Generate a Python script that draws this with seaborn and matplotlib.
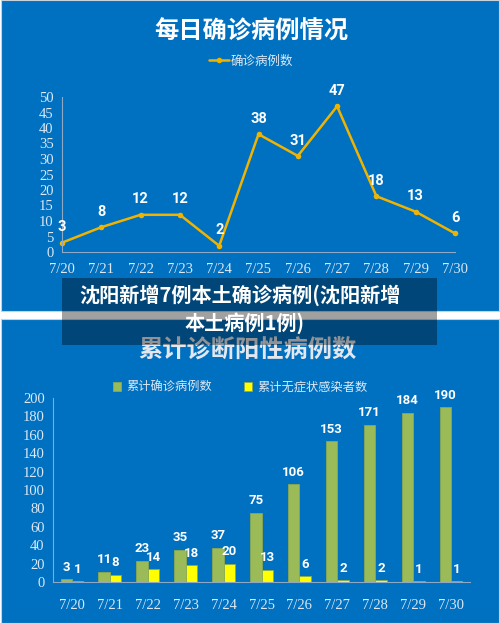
import matplotlib
matplotlib.use('Agg')
import pandas as pd
import seaborn as sns
import matplotlib.pyplot as plt
from matplotlib.patches import Rectangle

# data
dates = ['7/20', '7/21', '7/22', '7/23', '7/24', '7/25', '7/26', '7/27', '7/28', '7/29', '7/30']
daily_confirmed = [3, 8, 12, 12, 2, 38, 31, 47, 18, 13, 6]
cum_confirmed = [3, 11, 23, 35, 37, 75, 106, 153, 171, 184, 190]
cum_asymptomatic = [1, 8, 14, 18, 20, 13, 6, 2, 2, 1, 1]

top_title = '每日确诊病例情况'
bottom_title = '累计诊断阳性病例数'
line_label = '确诊病例数'
bar_labels = ['累计确诊病例数', '累计无症状感染者数']
banner_lines = ['沈阳新增7例本土确诊病例(沈阳新增', '本土病例1例)']

sns.set_style('white')
plt.rcParams['font.family'] = ['Noto Sans CJK SC', 'DejaVu Sans']

BLUE = '#0070c0'
TICK = '#dce8f4'
SPINE = '#8fa9c4'
LINE = '#f0b400'
GREEN = '#9bbb59'
YELLOW = '#ffff00'
num_font = ['Roboto', 'DejaVu Sans']
tick_font = ['Liberation Serif', 'DejaVu Serif']

W, H = 500, 623
fig = plt.figure(figsize=(W / 100, H / 100), dpi=100, facecolor='white')


def fx(px):
    return px / W


def fy(py):
    return 1 - py / H


# blue panels (behind the axes)
fig.patches.append(Rectangle((fx(1), fy(311)), fx(498), 311 / H, transform=fig.transFigure,
                             facecolor=BLUE, edgecolor='#c8d2dc', linewidth=0.8, zorder=-5))
fig.patches.append(Rectangle((fx(1), 0), fx(498), (623 - 319) / H, transform=fig.transFigure,
                             facecolor=BLUE, edgecolor='#c8d2dc', linewidth=0.8, zorder=-5))


def style_axes(ax):
    ax.set_facecolor('none')
    for side in ['top', 'right']:
        ax.spines[side].set_visible(False)
    for side in ['left', 'bottom']:
        ax.spines[side].set_color(SPINE)
        ax.spines[side].set_linewidth(0.8)
    ax.tick_params(length=0, colors=TICK, labelsize=10.5, pad=6)
    for lab in ax.get_xticklabels() + ax.get_yticklabels():
        lab.set_family(tick_font)
    ax.set_xlabel('')
    ax.set_ylabel('')


# ---- top: daily confirmed line chart ----
ax1 = fig.add_axes([fx(62), fy(252), fx(455 - 62), (252 - 97) / H])
x = list(range(len(dates)))
sns.lineplot(x=x, y=daily_confirmed, ax=ax1, color=LINE, linewidth=1.8, marker='o',
             markersize=4, markeredgewidth=0, label=line_label)
ax1.set_xlim(0, 10)
ax1.set_ylim(0, 50)
ax1.set_yticks(range(0, 51, 5))
ax1.set_xticks(x)
ax1.set_xticklabels(dates)
style_axes(ax1)
ax1.tick_params(axis='x', pad=8)
ax1.lines[0].set_clip_on(False)
for xi, v in zip(x, daily_confirmed):
    ax1.annotate(str(v), (xi, v), xytext=(0, 6), textcoords='offset points', ha='center', va='bottom',
                 color='white', fontsize=10.5, fontweight='bold', family=num_font)
h, l = ax1.get_legend_handles_labels()
ax1.get_legend().remove()
fig.legend(h, l, loc='center', bbox_to_anchor=(fx(251), fy(61)), frameon=False, fontsize=9,
           labelcolor=TICK, handlelength=1.6, handletextpad=0.2)

fig.text(fx(251), fy(32), top_title, ha='center', va='center', color='white', fontsize=17.5,
         fontweight='bold')

# ---- bottom: cumulative bar chart ----
df = pd.DataFrame({
    'date': dates * 2,
    'value': cum_confirmed + cum_asymptomatic,
    'kind': [bar_labels[0]] * len(dates) + [bar_labels[1]] * len(dates),
})
ax2 = fig.add_axes([fx(53), fy(582), fx(470 - 53), (582 - 398) / H])
sns.barplot(data=df, x='date', y='value', hue='kind', palette=[GREEN, YELLOW], width=0.6, gap=0,
            ax=ax2, edgecolor='#8aa94e', linewidth=0.6, saturation=1)
ax2.set_xlim(-0.5, 10.5)
ax2.set_ylim(0, 200)
ax2.set_yticks(range(0, 201, 20))
style_axes(ax2)
ax2.tick_params(axis='x', pad=12)
for cont in ax2.containers:
    ax2.bar_label(cont, padding=4, color='white', fontsize=9.5, fontweight='bold', family=num_font)
h, l = ax2.get_legend_handles_labels()
ax2.get_legend().remove()
fig.legend(h, l, loc='center', bbox_to_anchor=(fx(240), fy(387)), frameon=False, ncol=2, fontsize=8.8,
           labelcolor=TICK, handlelength=0.7, handleheight=0.7, handletextpad=0.4, columnspacing=2.6)

fig.text(fx(247), fy(351), bottom_title, ha='center', va='center', color='#e4e8ee', fontsize=17.5,
         fontweight='bold')

# ---- overlay banner ----
fig.patches.append(Rectangle((fx(62), fy(345)), fx(437 - 62), (345 - 278) / H, transform=fig.transFigure,
                             facecolor='black', alpha=0.37, edgecolor='none', zorder=10))
fig.text(fx(240), fy(295), banner_lines[0], ha='center', va='center', color='white', fontsize=14.5,
         fontweight='bold', zorder=11)
fig.text(fx(245), fy(323), banner_lines[1], ha='center', va='center', color='white', fontsize=14.5,
         fontweight='bold', zorder=11)

fig.savefig('out.png', dpi=100, facecolor='white')
